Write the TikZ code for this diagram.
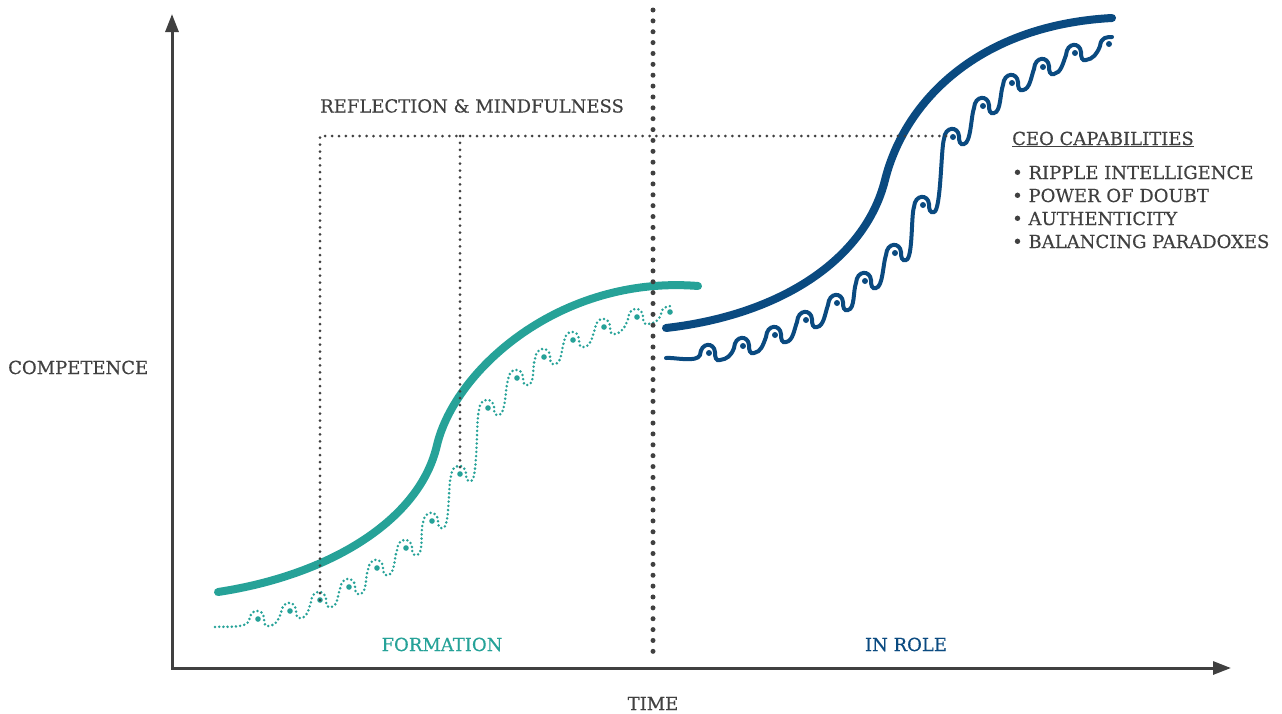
\documentclass[tikz,border=0pt]{standalone}
\usepackage{fontspec}
\setmainfont{DejaVu Serif}
\newfontfamily\lblfont{DejaVu Serif}[FakeBold=0.35]
\usetikzlibrary{arrows.meta}
\definecolor{formteal}{RGB}{38,162,152}
\definecolor{roleblue}{RGB}{10,74,128}
\definecolor{inkgray}{RGB}{64,64,64}
\tikzset{
  axis/.style={line width=3pt,inkgray,{Triangle[length=18pt,width=13pt]}-{Triangle[length=18pt,width=13pt]}},
  divider/.style={inkgray,line width=5pt,line cap=round,dash pattern=on 0pt off 10.87pt},
  guide/.style={inkgray,line width=3pt,line cap=round,dash pattern=on 0pt off 6.9pt},
  growth/.style={line width=8pt,line cap=round},
  ripple/.style={line width=4pt,line cap=round},
  rippledots/.style={line width=2.8pt,line cap=round,dash pattern=on 0pt off 4.2pt},
  lbl/.style={inner sep=0pt,text=inkgray,font=\lblfont\fontsize{18}{22}\selectfont}
}

\begin{document}
\begin{tikzpicture}[x=1pt,y=-1pt]
    \useasboundingbox (0,0) rectangle (1282,713);

    \coordinate (origin) at (172,668);
    \coordinate (ytop) at (172,14);
    \coordinate (xend) at (1231,668);
    \draw [axis] (ytop) -- (origin) -- (xend);

    % the two growth curves
    \draw [growth, formteal] (218,592) .. controls (330,575) and (420,520) .. (437,445)
        .. controls (455,370) and (560,275) .. (698,286);
    \draw [growth, roleblue] (666,328) .. controls (780,315) and (865,260) .. (885,180)
        .. controls (905,100) and (980,25) .. (1112,18);

    % ripples under the curves
    \draw [rippledots, formteal] (215,627)
      foreach \x/\y in {258/619,290/611,320/600,349/587,377/568,406/548,432/521,460/474,488/408,517/378,544/357,573/340,604/327,637/317} {
        .. controls +(7,-1) and +(-3,8) .. ({\x-9},{\y+2})
        .. controls +(1,-13) and +(-1,-10) .. ({\x+6},{\y-1})
        .. controls +(0,6) and +(-4,1) .. ({\x+11},{\y+7})
      }
      .. controls +(7,-1) and +(-3,8) .. (661,314) .. controls +(1,-8) and +(-5,0) .. (674,306);
    \foreach \x/\y in {258/619,290/611,320/600,349/587,377/568,406/548,432/521,460/474,488/408,517/378,544/357,573/340,604/327,637/317,670/312}
      \fill [formteal] (\x,\y) circle (2.8pt);

    \draw [ripple, roleblue] (666,358)
      foreach \x/\y in {709/353,743/346,775/335,806/320,837/303,865/281,895/253,923/205,953/137,983/106,1012/83,1043/67,1075/53} {
        .. controls +(7,-1) and +(-3,8) .. ({\x-9},{\y+2})
        .. controls +(1,-13) and +(-1,-10) .. ({\x+6},{\y-1})
        .. controls +(0,6) and +(-4,1) .. ({\x+11},{\y+7})
      }
      .. controls +(7,-1) and +(-3,8) .. (1100,46) .. controls +(1,-9) and +(-5,0) .. (1112,37);
    \foreach \x/\y in {709/353,743/346,775/335,806/320,837/303,865/281,895/253,923/205,953/137,983/106,1012/83,1043/67,1075/53,1109/44}
      \fill [roleblue] (\x,\y) circle (3pt);

    % reflection guides
    \coordinate (g1) at (320,600);
    \coordinate (g2) at (320,136);
    \coordinate (g3) at (953,136);
    \coordinate (g4) at (460,136);
    \coordinate (g5) at (460,474);
    \draw [guide] (g1) -- (g2) -- (g3);
    \draw [guide] (g4) -- (g5);

    \coordinate (divtop) at (653,10);
    \coordinate (divbot) at (653,662);
    \draw [divider] (divtop) -- (divbot);

    \node [lbl, anchor=base west] (reflection) at (320,112.5) {REFLECTION \& MINDFULNESS};
    \node [lbl, anchor=base west] (competence) at (8,374) {COMPETENCE};
    \node [lbl, anchor=base] (time) at (653,710) {TIME};
    \node [lbl, anchor=base, text=formteal] (formation) at (442,651) {FORMATION};
    \node [lbl, anchor=base, text=roleblue] (inrole) at (906,651) {IN ROLE};

    \node [lbl, anchor=base west] (ceocap) at (1012,145) {\underline{CEO CAPABILITIES}};
    \node [lbl, anchor=base west] (cap1) at (1012,179) {• RIPPLE INTELLIGENCE};
    \node [lbl, anchor=base west] (cap2) at (1012,202) {• POWER OF DOUBT};
    \node [lbl, anchor=base west] (cap3) at (1012,225) {• AUTHENTICITY};
    \node [lbl, anchor=base west] (cap4) at (1012,248) {• BALANCING PARADOXES};
\end{tikzpicture}
\end{document}
